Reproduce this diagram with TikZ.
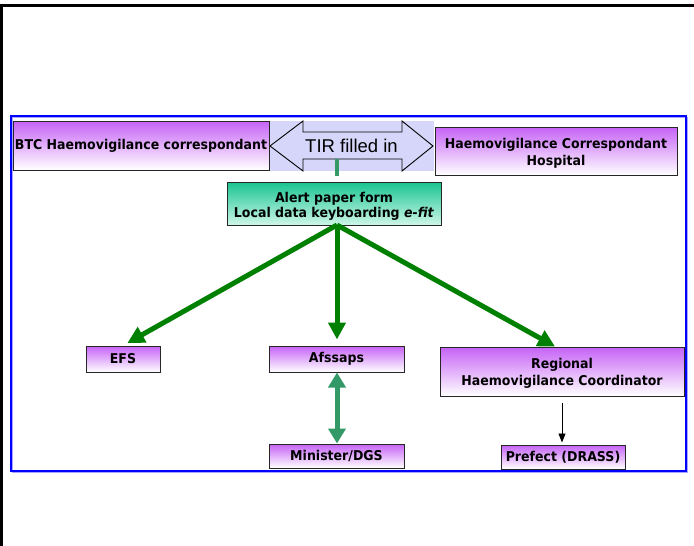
\documentclass[tikz,border=0pt]{standalone}
\usepackage{fontspec}
\setmainfont{DejaVu Sans}
\newfontfamily\boxfont[FakeStretch=0.93]{DejaVu Sans}
\newfontfamily\arialfont{Liberation Sans}
\usetikzlibrary{arrows.meta,calc}
\newcommand\lowertext[2]{\raisebox{-#1}[\height][\depth]{\begin{tabular}{@{}c@{}}#2\end{tabular}}}
\definecolor{boxpurple}{RGB}{198,98,246}
\definecolor{alerttop}{RGB}{24,196,144}
\definecolor{alertbot}{RGB}{205,246,232}
\definecolor{flowgreen}{RGB}{0,128,0}
\definecolor{seagreen}{RGB}{51,153,102}
\definecolor{lavender}{RGB}{214,214,250}
\definecolor{frameblue}{RGB}{0,0,255}
\tikzset{
  pbox/.style={draw=black!85, line width=1pt, top color=boxpurple, bottom color=white,
    font=\boxfont\bfseries\fontsize{13.5}{17}\selectfont, align=center, inner sep=0pt},
  gbox/.style={draw=black!85, line width=1pt, top color=alerttop, bottom color=alertbot,
    font=\boxfont\bfseries\fontsize{13.5}{15}\selectfont, align=center, inner sep=0pt},
  flow/.style={draw=flowgreen, line width=5pt, -{Triangle[width=17pt,length=17pt]}},
  link/.style={draw=seagreen, line width=5pt, {Triangle[width=17pt,length=15pt]}-{Triangle[width=17pt,length=15pt]}},
  stem/.style={draw=seagreen, line width=4pt},
  thinarrow/.style={draw=black, line width=0.8pt, -{Triangle[width=7pt,length=9pt]}},
}
\begin{document}
\begin{tikzpicture}[x=1pt,y=-1pt]
\useasboundingbox (0,0) rectangle (694,546);
% outer frame (top and left)
\draw[line width=3pt] (1.5,546) -- (1.5,5) -- (694,5);
% blue frame
\draw[frameblue!35, line width=1.2pt] (12.5,117.5) rectangle (687.5,472.5);
\draw[frameblue, line width=1.5pt] (11,116) rectangle (686,471);

% TIR double arrow
\fill[lavender] (269,121) rectangle (434,171);
\draw[black, line width=0.9pt, line join=miter] (270,146) -- (303,121) -- (303,132) -- (402,132) -- (402,121)
  -- (433,146) -- (402,171) -- (402,159) -- (303,159) -- (303,171) -- cycle;
\node[font=\arialfont\fontsize{18.5}{20}\selectfont, inner sep=0pt] (tir) at (351.5,146) {TIR filled in};

% boxes
\node[pbox, minimum width=256pt, minimum height=49pt] (btc) at (141,145.5) {BTC Haemovigilance correspondant};
\node[pbox, minimum width=242pt, minimum height=48pt] (hch) at (556,151) {\lowertext{3pt}{Haemovigilance Correspondant\\Hospital}};
\node[gbox, minimum width=214pt, minimum height=43pt] (alert) at (334,203.5) {\lowertext{3pt}{Alert paper form\\Local data keyboarding \textit{e-fit}}};
\node[pbox, minimum width=74pt, minimum height=26pt] (efs) at (123,359) {EFS};
\node[pbox, minimum width=135pt, minimum height=26pt] (afs) at (336.5,359) {Afssaps};
\node[pbox, minimum width=135pt, minimum height=24pt] (min) at (336.5,456) {Minister/DGS};
\node[pbox, minimum width=244pt, minimum height=49pt] (reg) at (562,371.5) {\lowertext{2pt}{Regional\\Haemovigilance Coordinator}};
\node[pbox, minimum width=124pt, minimum height=24pt] (pre) at (563,457) {Prefect (DRASS)};

% connectors
\coordinate (tirb) at (337,159);
\draw[stem] (tirb) -- ($(alert.north -| tirb)+(0,-6)$);
\coordinate (src) at (337,225);
\draw[flow, shorten >=5pt] (src) -- (efs.north);
\draw[flow, shorten >=6pt] (src) -- (afs.north -| src);
\draw[flow] (src) -- ($(reg.north)+(-7,0)$);
\draw[link] (afs.south -| src) -- (min.north -| src);
\draw[thinarrow, shorten <=6pt, shorten >=2pt] (reg.south) -- (reg.south |- pre.north);
\end{tikzpicture}
\end{document}
